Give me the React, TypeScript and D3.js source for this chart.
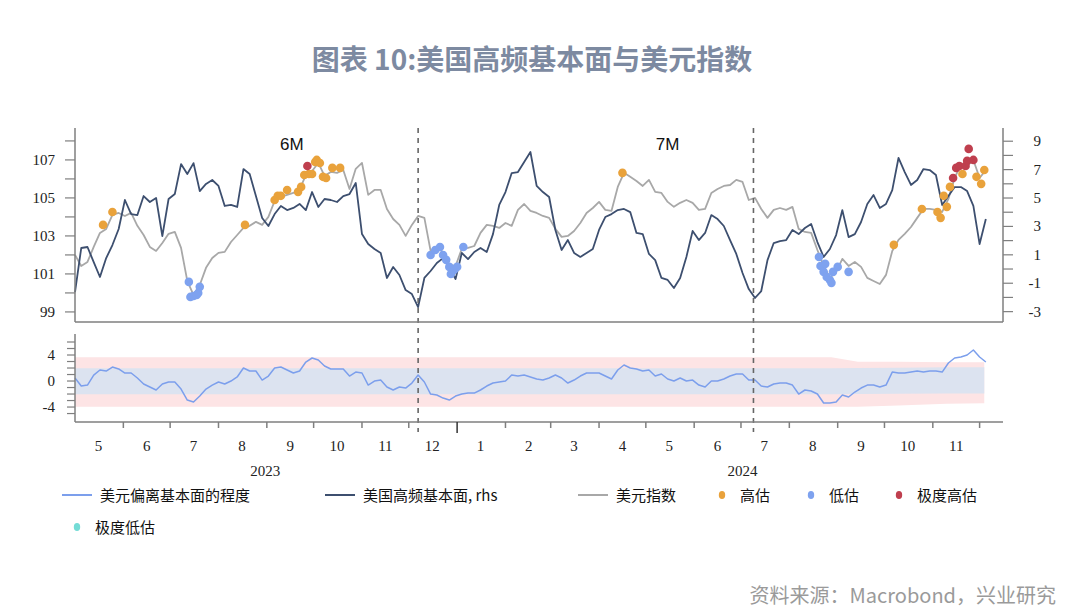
import React from 'react';
import * as d3 from 'd3';

// ---------- DATA ----------
const SERIES_START = '2023-05-01';
const STEP_DAYS = 4;

// 美元指数 (lhs)
const dxyValues = [
  102.00, 101.42, 101.63, 102.42, 103.16, 103.37, 104.11, 104.21, 104.05, 104.21,
  103.53, 103.05, 102.42, 102.21, 102.63, 103.11, 103.21, 102.37, 100.63, 99.89,
  100.42, 101.32, 101.84, 102.11, 102.16, 102.68, 103.05, 103.42, 103.53, 103.74,
  103.58, 104.00, 104.84, 105.05, 105.16, 105.26, 105.42, 106.21, 106.42, 106.84,
  106.16, 106.37, 106.32, 106.47, 105.47, 106.53, 106.84, 105.16, 105.42, 105.42,
  104.42, 103.89, 103.58, 103.00, 103.58, 104.05, 103.95, 102.21, 102.37, 102.16,
  101.47, 101.42, 102.32, 102.37, 102.47, 103.16, 103.58, 103.53, 103.42, 103.68,
  103.53, 104.37, 104.68, 104.32, 104.21, 104.05, 103.95, 103.37, 102.95, 103.00,
  103.26, 103.68, 104.21, 104.47, 104.79, 104.37, 104.32, 105.58, 106.32, 106.11,
  105.89, 105.63, 105.95, 105.32, 105.26, 104.79, 104.53, 104.74, 104.89, 104.74,
  104.37, 104.42, 105.26, 105.47, 105.63, 105.68, 105.95, 105.84, 104.89, 105.00,
  104.42, 103.95, 104.37, 104.47, 104.37, 104.53, 103.37, 103.21, 103.16, 102.26,
  101.42, 100.79, 101.11, 101.79, 101.42, 101.63, 101.37, 100.79, 100.63, 100.47,
  100.95, 102.21, 102.79, 103.11, 103.47, 103.95, 104.42, 104.42, 104.37, 104.26,
  104.95, 106.05, 106.74, 106.68, 107.00, 106.05, 106.47,
];

// 美国高频基本面 (rhs)
const fundamentalValues = [
  -1.62, 1.48, 1.55, 0.49, -0.56, 0.77, 1.69, 2.82, 4.86, 3.87,
  3.80, 5.14, 4.72, 5.00, 2.32, 4.93, 5.28, 7.39, 6.69, 7.46,
  5.49, 5.99, 6.27, 5.85, 4.44, 4.51, 4.37, 7.04, 6.69, 5.14,
  3.59, 3.03, 3.87, 4.44, 4.15, 4.30, 4.58, 4.15, 5.42, 4.37,
  4.93, 4.86, 4.72, 5.14, 5.28, 6.06, 2.46, 1.76, 1.41, 1.13,
  -0.63, 0.14, -0.42, -1.48, -1.76, -2.68, -0.63, -0.14, 0.42, 0.77,
  0.07, -0.70, 1.13, 0.70, 1.20, 1.48, 1.20, 2.46, 4.51, 5.42,
  6.76, 6.83, 7.54, 8.24, 5.85, 5.42, 5.07, 2.75, 1.34, 2.04,
  1.13, 0.85, 1.13, 1.41, 2.75, 3.66, 3.87, 4.15, 4.23, 4.01,
  2.54, 2.46, 1.06, 0.63, -0.63, -0.77, -1.34, -0.63, 0.85, 2.68,
  2.04, 2.54, 3.80, 3.52, 3.03, 2.04, 1.06, -0.28, -1.41, -2.04,
  -1.55, 0.63, 1.83, 1.97, 2.04, 2.75, 2.46, 2.89, 3.17, 1.90,
  0.85, 1.41, 2.39, 4.15, 2.25, 2.46, 3.31, 4.58, 5.21, 4.30,
  4.58, 5.56, 7.82, 6.83, 5.92, 6.27, 7.04, 6.97, 6.62, 4.51,
  5.14, 5.77, 5.77, 5.49, 4.44, 1.76, 3.52,
];

// 偏离度 (lower panel)
const deviationValues = [
  0.46, -0.77, -0.62, 0.92, 1.69, 1.54, 2.15, 1.85, 1.23, 1.23,
  0.46, -0.46, -0.92, -1.38, -0.46, -0.15, -0.15, -1.23, -2.92, -3.23,
  -2.31, -1.23, -0.62, -0.15, -0.46, 0.00, 0.62, 2.00, 1.54, 1.54,
  0.15, 0.77, 2.00, 2.15, 1.69, 1.23, 1.54, 2.92, 3.54, 3.23,
  2.31, 1.85, 1.85, 1.85, 0.77, 1.38, 1.23, -0.62, 0.00, 0.15,
  -0.92, -1.38, -0.92, -1.08, -0.31, 0.92, -0.15, -2.00, -2.15, -2.62,
  -2.92, -2.31, -2.00, -1.85, -1.85, -1.38, -0.77, -0.31, -0.15, 0.00,
  0.92, 0.77, 0.92, 0.62, 0.31, 0.15, 0.46, 0.92, 0.46, -0.31,
  0.15, 0.77, 1.23, 1.23, 1.23, 0.77, 0.31, 1.69, 2.46, 2.00,
  1.85, 1.54, 1.69, 0.77, 1.08, 0.31, 0.00, 0.46, 0.00, 0.15,
  -0.62, -0.92, 0.00, 0.00, 0.31, 0.77, 1.08, 1.08, 0.15, 0.15,
  -0.77, -0.92, -0.46, -0.31, -0.31, -0.62, -2.00, -1.38, -1.54, -2.00,
  -3.38, -3.38, -3.23, -2.15, -2.46, -1.69, -1.08, -0.62, -0.62, -0.92,
  -0.62, 1.38, 1.23, 1.23, 1.38, 1.54, 1.38, 1.54, 1.54, 1.38,
  2.77, 3.54, 3.69, 4.00, 4.77, 3.69, 2.92,
];

// bands in lower panel
const bandDates = ['2023-05-01', '2024-08-28', '2024-09-14', '2024-10-10', '2024-11-10', '2024-12-04'];
const outerUpper = [3.65, 3.65, 2.95, 2.95, 2.9, 2.9];
const innerUpper = [1.95, 1.95, 2.0, 2.05, 2.1, 2.1];
const innerLower = [-2.05, -2.05, -2.0, -1.95, -1.9, -1.9];
const outerLower = [-3.95, -3.95, -3.95, -3.75, -3.5, -3.4];

// markers on 美元指数
const overDates = [
  '2023-05-19', '2023-05-25', '2023-08-18', '2023-09-06', '2023-09-08', '2023-09-10', '2023-09-14',
  '2023-09-21', '2023-09-23', '2023-09-25', '2023-09-28', '2023-09-30', '2023-10-02', '2023-10-03',
  '2023-10-05', '2023-10-07', '2023-10-09', '2023-10-13', '2023-10-18', '2024-04-16', '2024-10-07',
  '2024-10-25', '2024-11-04', '2024-11-06', '2024-11-08', '2024-11-10', '2024-11-12', '2024-11-20',
  '2024-11-29', '2024-12-02', '2024-12-04',
];
const overValues = [
  103.58, 104.26, 103.58, 104.89, 105.11, 105.11, 105.42,
  105.32, 105.58, 106.21, 106.26, 106.26, 106.89, 107.00,
  106.84, 106.11, 106.05, 106.58, 106.58, 106.32, 102.53,
  104.42, 104.26, 103.95, 105.11, 104.53, 105.58, 106.26,
  106.11, 105.74, 106.47,
];
const underDates = [
  '2023-07-13', '2023-07-14', '2023-07-16', '2023-07-18', '2023-07-19', '2023-07-20',
  '2023-12-15', '2023-12-18', '2023-12-21', '2023-12-23', '2023-12-25', '2023-12-27', '2023-12-28',
  '2023-12-30', '2024-01-01', '2024-01-05',
  '2024-08-20', '2024-08-21', '2024-08-23', '2024-08-24', '2024-08-25', '2024-08-27', '2024-08-28',
  '2024-08-29', '2024-09-01', '2024-09-08',
];
const underValues = [
  100.58, 99.79, 99.84, 99.89, 100.00, 100.32,
  102.00, 102.26, 102.42, 102.00, 101.74, 101.37, 101.00,
  101.21, 101.37, 102.42,
  101.89, 101.42, 101.11, 101.53, 100.84, 100.68, 100.53,
  101.11, 101.37, 101.11,
];
const extremeOverDates = ['2023-09-27', '2024-11-14', '2024-11-16', '2024-11-18', '2024-11-22', '2024-11-23', '2024-11-24', '2024-11-27'];
const extremeOverValues = [106.68, 106.05, 106.58, 106.68, 106.68, 106.95, 107.58, 107.00];
const extremeUnderDates: string[] = [];
const extremeUnderValues: number[] = [];

const leftTicks = [99, 100, 101, 102, 103, 104, 105, 106, 107, 108];
const rightTicks = [-3, -2, -1, 0, 1, 2, 3, 4, 5, 6, 7, 8, 9];
const lowerTicks = [-5, -4, -3, -2, -1, 0, 1, 2, 3, 4, 5, 6];
const lowerLabels = [-4, 0, 4];
const markerDates = ['2023-12-07', '2024-07-09'];
const periodLabels = ['6M', '7M'];
const periodLabelDates = ['2023-09-17', '2024-05-15'];
const yearLabels = ['2023', '2024'];
const yearLabelDates = ['2023-08-31', '2024-07-02'];

const TITLE = '图表 10:美国高频基本面与美元指数';
const SOURCE = '资料来源：Macrobond，兴业研究';
const legendNames = ['美元偏离基本面的程度', '美国高频基本面, rhs', '美元指数', '高估', '低估', '极度高估', '极度低估'];

const C = {
  dev: '#7C9FEC',
  fund: '#3D4F6F',
  dxy: '#A8A8A8',
  over: '#E9A23B',
  under: '#7EA2EF',
  exOver: '#BF3F4E',
  exUnder: '#74DCD6',
  outer: '#FDE4E5',
  inner: '#DCE3F0',
  axis: '#7f7f7f',
};

const parse = d3.timeParse('%Y-%m-%d');

export default function App() {
  const start = parse(SERIES_START)!;
  const dates = dxyValues.map((_, i) => d3.timeDay.offset(start, i * STEP_DAYS));

  const x = d3.scaleTime().domain([parse('2023-05-01')!, parse('2024-12-16')!]).range([75, 1003]);
  const yL = d3.scaleLinear().domain([98.47, 108.68]).range([322, 128]);
  const yR = d3.scaleLinear().domain([-3.73, 9.93]).range([322, 128]);
  const yB = d3.scaleLinear().domain([-6.3, 7.0]).range([422, 335.5]);

  const dxyLine = d3.line<number>().x((_, i) => x(dates[i])).y((d) => yL(d))(dxyValues)!;
  const fundLine = d3.line<number>().x((_, i) => x(dates[i])).y((d) => yR(d))(fundamentalValues)!;
  const devLine = d3.line<number>().x((_, i) => x(dates[i])).y((d) => yB(d))(deviationValues)!;

  const bDates = bandDates.map((d) => parse(d)!);
  const bandIdx = bandDates.map((_, i) => i);
  const outerArea = d3.area<number>().x((i) => x(bDates[i])).y0((i) => yB(outerLower[i])).y1((i) => yB(outerUpper[i]))(bandIdx)!;
  const innerArea = d3.area<number>().x((i) => x(bDates[i])).y0((i) => yB(innerLower[i])).y1((i) => yB(innerUpper[i]))(bandIdx)!;

  const monthStarts = d3.timeMonth.range(parse('2023-06-01')!, parse('2024-12-02')!);
  const labelMonths = d3.timeMonth.range(parse('2023-05-01')!, parse('2024-12-01')!);

  const dotSets = [
    { dates: overDates, values: overValues, color: C.over },
    { dates: underDates, values: underValues, color: C.under },
    { dates: extremeOverDates, values: extremeOverValues, color: C.exOver },
    { dates: extremeUnderDates, values: extremeUnderValues, color: C.exUnder },
  ];

  const serif = '"Liberation Serif", "Times New Roman", serif';
  const sans = '"Liberation Sans", Arial, sans-serif';
  const cjk = '"Noto Sans CJK SC", "Noto Sans", sans-serif';

  const legendItems = [
    { name: legendNames[0], type: 'line', color: C.dev, x: 62, y: 495 },
    { name: legendNames[1], type: 'line', color: C.fund, x: 325, y: 495 },
    { name: legendNames[2], type: 'line', color: C.dxy, x: 578, y: 495 },
    { name: legendNames[3], type: 'dot', color: C.over, x: 722, y: 495 },
    { name: legendNames[4], type: 'dot', color: C.under, x: 811, y: 495 },
    { name: legendNames[5], type: 'dot', color: C.exOver, x: 899, y: 495 },
    { name: legendNames[6], type: 'dot', color: C.exUnder, x: 77, y: 527 },
  ];

  return (
    <svg width={1080} height={613} style={{ position: 'absolute', left: 0, top: 0, background: '#fff' }}>
      <text x={532} y={70} textAnchor="middle" fontFamily={cjk} fontWeight={700} fontSize={28} fill="#7D8AA1">
        {TITLE}
      </text>

      {/* lower panel bands & line */}
      <path d={outerArea} fill={C.outer} />
      <path d={innerArea} fill={C.inner} />
      <path d={devLine} fill="none" stroke={C.dev} strokeWidth={1.5} strokeLinejoin="round" />

      {/* upper panel lines */}
      <path d={dxyLine} fill="none" stroke={C.dxy} strokeWidth={1.8} strokeLinejoin="round" />
      <path d={fundLine} fill="none" stroke={C.fund} strokeWidth={1.8} strokeLinejoin="round" />

      {dotSets.map((s, k) =>
        s.dates.map((d, i) => (
          <circle key={`${k}-${i}`} cx={x(parse(d)!)} cy={yL(s.values[i])} r={4.3} fill={s.color} />
        ))
      )}

      {/* dashed markers */}
      {markerDates.map((d) => (
        <line key={d} x1={x(parse(d)!)} x2={x(parse(d)!)} y1={128} y2={432} stroke="#666" strokeWidth={1.6} strokeDasharray="5,5" />
      ))}
      {periodLabels.map((t, i) => (
        <text key={t} x={x(parse(periodLabelDates[i])!)} y={150} textAnchor="middle" fontFamily={sans} fontSize={17} fill="#111">
          {t}
        </text>
      ))}

      {/* upper axes */}
      <line x1={75} x2={75} y1={128} y2={322} stroke={C.axis} strokeWidth={1.5} />
      <line x1={1003} x2={1003} y1={128} y2={322} stroke={C.axis} strokeWidth={1.5} />
      <line x1={75} x2={1003} y1={322} y2={322} stroke={C.axis} strokeWidth={1.5} />
      {leftTicks.map((t) => (
        <g key={`l${t}`}>
          <line x1={65} x2={75} y1={yL(t)} y2={yL(t)} stroke={C.axis} strokeWidth={1.2} />
          {t % 2 === 1 && (
            <text x={55} y={yL(t) + 5} textAnchor="end" fontFamily={serif} fontSize={15} fill="#222">
              {t}
            </text>
          )}
        </g>
      ))}
      {rightTicks.map((t) => (
        <g key={`r${t}`}>
          <line x1={1003} x2={1013} y1={yR(t)} y2={yR(t)} stroke={C.axis} strokeWidth={1.2} />
          {Math.abs(t) % 2 === 1 && (
            <text x={1041} y={yR(t) + 5} textAnchor="end" fontFamily={serif} fontSize={15} fill="#222">
              {t}
            </text>
          )}
        </g>
      ))}

      {/* lower axes */}
      <line x1={75} x2={75} y1={334} y2={422} stroke={C.axis} strokeWidth={1.5} />
      <line x1={75} x2={1003} y1={422} y2={422} stroke={C.axis} strokeWidth={1.5} />
      {lowerTicks.map((t) => (
        <line key={`b${t}`} x1={67} x2={75} y1={yB(t)} y2={yB(t)} stroke={C.axis} strokeWidth={1.2} />
      ))}
      {lowerLabels.map((t) => (
        <text key={`bl${t}`} x={55} y={yB(t) + 5} textAnchor="end" fontFamily={serif} fontSize={15} fill="#222">
          {t}
        </text>
      ))}

      {/* x axis */}
      {monthStarts.map((m) => (
        <line
          key={m.toISOString()}
          x1={x(m)}
          x2={x(m)}
          y1={422}
          y2={m.getMonth() === 0 ? 433 : 428}
          stroke={m.getMonth() === 0 ? '#333' : C.axis}
          strokeWidth={1.5}
        />
      ))}
      {labelMonths.map((m) => (
        <text
          key={`ml${m.toISOString()}`}
          x={x(d3.timeDay.offset(m, 15))}
          y={451}
          textAnchor="middle"
          fontFamily={serif}
          fontSize={15}
          fill="#222"
        >
          {m.getMonth() + 1}
        </text>
      ))}
      {yearLabels.map((t, i) => (
        <text key={t} x={x(parse(yearLabelDates[i])!)} y={476} textAnchor="middle" fontFamily={serif} fontSize={15} fill="#222">
          {t}
        </text>
      ))}

      {/* legend */}
      {legendItems.map((it) => (
        <g key={it.name}>
          {it.type === 'line' ? (
            <line x1={it.x} x2={it.x + 30} y1={it.y} y2={it.y} stroke={it.color} strokeWidth={2} />
          ) : (
            <ellipse cx={it.x} cy={it.y} rx={3.2} ry={4} fill={it.color} />
          )}
          <text
            x={it.type === 'line' ? it.x + 38 : it.x + 18}
            y={it.y + 5.5}
            fontFamily={cjk}
            fontSize={15}
            fill="#111"
          >
            {it.name}
          </text>
        </g>
      ))}

      <text x={1056} y={603} textAnchor="end" fontFamily={cjk} fontSize={20} fill="#9A9A9A">
        {SOURCE}
      </text>
    </svg>
  );
}
